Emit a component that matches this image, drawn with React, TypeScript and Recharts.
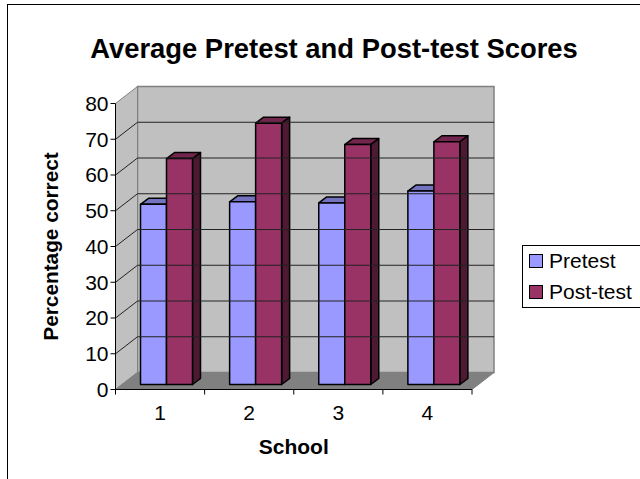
import { BarChart, Bar, XAxis, YAxis, ReferenceArea, ReferenceLine, Legend } from "recharts"

const schools = ["1", "2", "3", "4"]
const pretest = [50.4, 51.1, 50.8, 54.1]
const posttest = [63.2, 73.1, 67.1, 67.9]
const yTicks = [0, 10, 20, 30, 40, 50, 60, 70, 80]
const gridValues = [10, 20, 30, 40, 50, 60, 70]

const data = schools.map((school, i) => ({ school, Pretest: pretest[i], "Post-test": posttest[i] }))

const FONT = "'Liberation Sans', Arial, sans-serif"
const WALL_DX = 22
const WALL_DY = 17
const BAR_DX = 8
const BAR_DY = 6
const BAR_SHIFT_X = 6.5
const BAR_SHIFT_Y = 5

function pts(list: number[][]) {
  return list.map(p => p.join(",")).join(" ")
}

function Walls({ x, y, width, height }: any) {
  const bottom = y + height
  const right = x + width
  return (
    <g>
      <polygon points={pts([[x + WALL_DX, y - WALL_DY], [right + WALL_DX, y - WALL_DY], [right + WALL_DX, bottom - WALL_DY], [x + WALL_DX, bottom - WALL_DY]])} fill="#c0c0c0" stroke="#808080" strokeWidth={1.5} />
      <polygon points={pts([[x, y], [x + WALL_DX, y - WALL_DY], [x + WALL_DX, bottom - WALL_DY], [x, bottom]])} fill="#c0c0c0" stroke="#808080" strokeWidth={1} />
      <polygon points={pts([[x, bottom], [x + WALL_DX, bottom - WALL_DY], [right + WALL_DX, bottom - WALL_DY], [right, bottom]])} fill="#808080" stroke="#808080" strokeWidth={1} />
    </g>
  )
}

function GridLine(props: any) {
  const { x1, y1, x2, y2 } = props
  return (
    <polyline
      points={pts([[x1, y1], [x1 + WALL_DX, y1 - WALL_DY], [x2 + WALL_DX, y2 - WALL_DY]])}
      fill="none"
      stroke="#222"
      strokeWidth={1}
    />
  )
}

function Bar3D({ x, y, width, height, fill, topFill, sideFill }: any) {
  const left = x + BAR_SHIFT_X
  const right = left + width
  const top = y - BAR_SHIFT_Y
  const bottom = top + height
  return (
    <g stroke="#000" strokeWidth={1.5} strokeLinejoin="round">
      <polygon points={pts([[left, top], [left + BAR_DX, top - BAR_DY], [right + BAR_DX, top - BAR_DY], [right, top]])} fill={topFill} />
      <polygon points={pts([[right, top], [right + BAR_DX, top - BAR_DY], [right + BAR_DX, bottom - BAR_DY], [right, bottom]])} fill={sideFill} />
      <rect x={left} y={top} width={width} height={height} fill={fill} />
    </g>
  )
}

function SchoolTick({ x, y, payload, index, visibleTicksCount }: any) {
  const band = 356.5 / (visibleTicksCount || 4)
  return (
    <g>
      <line x1={x + band / 2} x2={x + band / 2} y1={y - 8} y2={y - 3} stroke="#000" />
      {index === 0 && <line x1={x - band / 2} x2={x - band / 2} y1={y - 8} y2={y - 3} stroke="#000" />}
      <text x={x} y={y + 22} textAnchor="middle" fontSize={21} fontFamily={FONT} fill="#000">
        {payload.value}
      </text>
    </g>
  )
}

function LegendBox() {
  const items = [
    { name: "Pretest", color: "#9999ff" },
    { name: "Post-test", color: "#993366" },
  ]
  return (
    <div style={{ width: 130, height: 63, border: "1px solid #000", background: "#fff", boxSizing: "border-box", fontFamily: FONT, fontSize: 21, color: "#000" }}>
      {items.map((item, i) => (
        <div key={item.name} style={{ position: "absolute", left: 7, top: 9 + i * 31, display: "flex", alignItems: "center", height: 14 }}>
          <span style={{ display: "inline-block", width: 12, height: 12, background: item.color, border: "1px solid #000", marginRight: 6 }} />
          <span>{item.name}</span>
        </div>
      ))}
    </div>
  )
}

export default function App() {
  return (
    <div style={{ position: "relative", width: 640, height: 479, overflow: "hidden", background: "#fff" }}>
      <style>{"body{margin:0}"}</style>
      <div style={{ position: "absolute", left: 7, width: 654, top: 33, textAlign: "center", fontFamily: FONT, fontWeight: "bold", fontSize: 27.4, color: "#000" }}>
        Average Pretest and Post-test Scores
      </div>
      <BarChart
        width={640}
        height={479}
        data={data}
        barCategoryGap={18.5}
        barGap={0}
        margin={{ top: 103.5, right: 168, bottom: 29.5, left: 0 }}
      >
        <XAxis
          dataKey="school"
          stroke="#000"
          tickLine={false}
          tick={<SchoolTick />}
          height={60}
          label={{ value: "School", position: "insideBottom", offset: -4, fontSize: 21, fontWeight: "bold", fontFamily: FONT, fill: "#000" }}
        />
        <YAxis
          domain={[0, 80]}
          ticks={yTicks}
          interval={0}
          width={115.5}
          stroke="#000"
          tickSize={5}
          tick={{ fontSize: 21, fontFamily: FONT, fill: "#000" }}
          label={{ value: "Percentage correct", angle: -90, position: "insideLeft", offset: 51, fontSize: 20.8, fontWeight: "bold", fontFamily: FONT, fill: "#000", style: { textAnchor: "middle" } }}
        />
        <ReferenceArea y1={0} y2={80} shape={<Walls />} />
        {gridValues.map(v => (
          <ReferenceLine key={v} y={v} shape={<GridLine />} />
        ))}
        <Bar dataKey="Pretest" fill="#9999ff" isAnimationActive={false} shape={<Bar3D topFill="#7373bf" sideFill="#4d4d80" />} />
        <Bar dataKey="Post-test" fill="#993366" isAnimationActive={false} shape={<Bar3D topFill="#73264d" sideFill="#4d1933" />} />
        <Legend
          layout="vertical"
          align="center"
          verticalAlign="middle"
          content={<LegendBox />}
          wrapperStyle={{ left: 522, top: 245, width: 130, height: 63 }}
        />
      </BarChart>
      <div style={{ position: "absolute", left: 7, top: 4, right: -4, bottom: -4, borderLeft: "1px solid #000", borderTop: "1px solid #000", pointerEvents: "none" }} />
    </div>
  )
}
